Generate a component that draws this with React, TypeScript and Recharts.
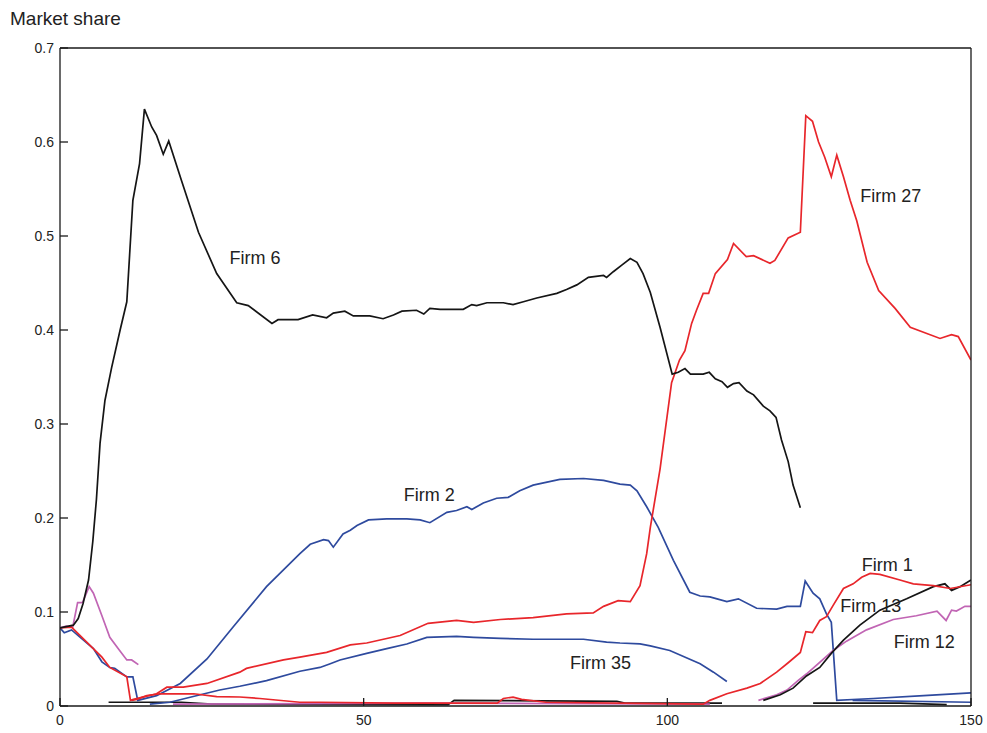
import React from "react";
import { LineChart, Line, XAxis, YAxis, ReferenceDot } from "recharts";

type Pt = [number, number];

// period, market share
const firm6: Pt[] = [
  [0, 0.083], [2.2, 0.086], [3, 0.093], [3.8, 0.109], [4.7, 0.134], [5.4, 0.175], [6, 0.22],
  [6.6, 0.28], [7.4, 0.325], [8.5, 0.36], [9.9, 0.4], [11, 0.43], [12, 0.538], [13.1, 0.577],
  [13.9, 0.635], [15.1, 0.616], [15.9, 0.607], [17, 0.587], [17.9, 0.601], [20, 0.559],
  [22.8, 0.504], [25.8, 0.46], [29.1, 0.429], [31, 0.426], [34.9, 0.407], [35.9, 0.411],
  [39.2, 0.411], [41.6, 0.416], [43.9, 0.413], [45, 0.418], [46.9, 0.42], [48.3, 0.415],
  [51, 0.415], [53.2, 0.412], [54.9, 0.416], [56.3, 0.42], [58.7, 0.421], [59.9, 0.417],
  [60.9, 0.423], [62.6, 0.422], [66.4, 0.422], [67.8, 0.427], [68.6, 0.426], [70.3, 0.429],
  [73, 0.429], [74.6, 0.427], [76.3, 0.43], [78.5, 0.434], [81.8, 0.439], [83.4, 0.443],
  [85.1, 0.448], [87, 0.456], [89.5, 0.458], [90, 0.456], [91.1, 0.462], [92.5, 0.469],
  [93.9, 0.476], [95, 0.472], [96, 0.46], [97.2, 0.44], [98.8, 0.403], [100.8, 0.353],
  [101.8, 0.355], [102.9, 0.359], [103.8, 0.353], [105.9, 0.353], [106.9, 0.355],
  [107.9, 0.348], [109, 0.345], [109.9, 0.339], [110.9, 0.343], [111.8, 0.344], [113.1, 0.335],
  [114.2, 0.331], [115.8, 0.319], [116.9, 0.314], [117.9, 0.307], [118.8, 0.283],
  [119.9, 0.26], [120.7, 0.235], [121.9, 0.211],
];

const firm27: Pt[] = [
  [0, 0.083], [1.9, 0.084], [4.4, 0.068], [6.9, 0.052], [8.2, 0.041], [11, 0.031], [11.6, 0.006],
  [12.1, 0.007], [15.9, 0.013], [17.6, 0.02], [20.3, 0.02], [24.2, 0.024], [29.6, 0.036],
  [30.7, 0.04], [36.8, 0.049], [39.5, 0.052], [43.9, 0.057], [47.8, 0.065], [50.5, 0.067],
  [56, 0.075], [60.6, 0.088], [65.3, 0.091], [68.1, 0.089], [72.5, 0.092], [77.9, 0.094],
  [83.4, 0.098], [87.8, 0.099], [89.5, 0.106], [91.9, 0.112], [93.9, 0.111], [95.5, 0.128],
  [96.6, 0.162], [97.2, 0.19], [98.8, 0.252], [100.7, 0.344], [102, 0.368], [102.9, 0.378],
  [104, 0.407], [104.8, 0.421], [105.9, 0.439], [106.8, 0.439], [107.9, 0.46], [109.9, 0.475],
  [110.9, 0.492], [113, 0.478], [114.2, 0.479], [116.9, 0.471], [117.7, 0.474], [119.9, 0.498],
  [121.9, 0.504], [122.8, 0.628], [123.9, 0.622], [124.9, 0.6], [125.9, 0.584], [127, 0.563],
  [127.9, 0.586], [129, 0.563], [130.1, 0.538], [131.2, 0.516], [132.9, 0.472], [134.8, 0.442],
  [137.5, 0.423], [140, 0.403], [144.9, 0.391], [146.8, 0.395], [147.9, 0.393], [150, 0.368],
];

const firm2: Pt[] = [
  [0, 0.083], [0.7, 0.078], [1.9, 0.081], [5.5, 0.061], [6.9, 0.047], [8.2, 0.041], [9, 0.04],
  [11, 0.031], [12, 0.031], [12.8, 0.006], [15.9, 0.011], [19.8, 0.024], [24.2, 0.05],
  [28.5, 0.084], [34, 0.127], [39.5, 0.162], [41.2, 0.172], [43.4, 0.177], [44.2, 0.176],
  [45, 0.169], [46.6, 0.183], [47.8, 0.187], [48.9, 0.192], [50.8, 0.198], [53.8, 0.199],
  [57.1, 0.199], [59.3, 0.198], [60.9, 0.195], [63.7, 0.206], [65.3, 0.208], [67, 0.212],
  [67.8, 0.209], [69.7, 0.216], [71.9, 0.221], [73.8, 0.222], [75.7, 0.229], [77.9, 0.235],
  [82.3, 0.241], [86.2, 0.242], [89.5, 0.24], [92.2, 0.236], [93.9, 0.235], [95, 0.229],
  [96.6, 0.212], [98.5, 0.19], [101, 0.155], [103.7, 0.121], [105.4, 0.117], [107, 0.116],
  [109.8, 0.111], [111.7, 0.114], [114.7, 0.104], [118, 0.103], [119.7, 0.106], [121.9, 0.106],
  [122.7, 0.133], [124, 0.12], [125.1, 0.114], [126.2, 0.098], [127, 0.089], [127.9, 0.006],
  [133.9, 0.008], [142.2, 0.011], [150, 0.014],
];

const firmEarly: Pt[] = [
  [0, 0.083], [1, 0.085], [2.1, 0.084], [2.9, 0.11], [3.7, 0.11], [4.8, 0.127], [5.5, 0.12],
  [6.9, 0.096], [8.2, 0.073], [9.6, 0.061], [11, 0.049], [11.8, 0.049], [12.9, 0.044],
];

const firm35: Pt[] = [
  [14.8, 0.002], [18.1, 0.004], [23.1, 0.012], [26.3, 0.017], [29.6, 0.021], [34, 0.027],
  [39.5, 0.037], [42.8, 0.041], [44.5, 0.045], [46.1, 0.049], [50.5, 0.056], [53.8, 0.061],
  [57.1, 0.066], [60.4, 0.073], [65.3, 0.074], [68.1, 0.073], [72.5, 0.072], [77.9, 0.071],
  [86.2, 0.071], [90, 0.068], [92.2, 0.067], [95.5, 0.066], [97.2, 0.064], [100.4, 0.059],
  [105.4, 0.045], [107.6, 0.036], [109.8, 0.026],
];

const firm1: Pt[] = [
  [11.8, 0.006], [12.6, 0.007], [14.3, 0.011], [16.5, 0.013], [22, 0.013], [25.8, 0.01],
  [29.6, 0.0096], [32.9, 0.008], [39.5, 0.004], [42.8, 0.004], [55, 0.003], [72, 0.003],
  [73, 0.008], [74.6, 0.0095], [76, 0.007], [80, 0.004], [105.9, 0.002], [107, 0.006],
  [109.8, 0.013], [113.1, 0.019], [115.3, 0.024], [118, 0.036], [119.9, 0.046], [121.9, 0.057],
  [122.8, 0.079], [123.9, 0.078], [125.1, 0.091], [126.2, 0.095], [127.3, 0.107], [129, 0.125],
  [130.6, 0.13], [132, 0.137], [133.4, 0.141], [135, 0.14], [138.3, 0.134], [140.5, 0.13],
  [143.8, 0.128], [146.6, 0.125], [150, 0.129],
];

const firm13: Pt[] = [
  [115.8, 0.006], [118.6, 0.012], [120.7, 0.019], [122.9, 0.032], [125.1, 0.041], [127, 0.056],
  [129, 0.07], [131.7, 0.086], [135, 0.102], [139.4, 0.114], [143.8, 0.127], [145.7, 0.13],
  [146.8, 0.123], [148.2, 0.127], [150, 0.134],
];

const firm12: Pt[] = [
  [115, 0.006], [118, 0.012], [119.7, 0.017], [121.5, 0.027], [122.9, 0.034], [127.3, 0.059],
  [129.5, 0.069], [132.8, 0.081], [137.2, 0.092], [141, 0.096], [144.4, 0.101], [145.9, 0.091],
  [146.8, 0.102], [147.6, 0.101], [149, 0.106], [150, 0.106],
];

const lowBlackA: Pt[] = [
  [8, 0.004], [20, 0.004], [25, 0.002], [63.9, 0.0015], [64.9, 0.006], [91.7, 0.005],
  [93, 0.003], [109, 0.003],
];
const lowBlackB: Pt[] = [[124, 0.003], [138.3, 0.003], [146, 0.0015]];
const lowMagenta: Pt[] = [[18.6, 0.002], [60, 0.003], [107, 0.002]];
const lowBlue: Pt[] = [[130.5, 0.006], [150, 0.004]];

const X_TICKS = [0, 50, 100, 150];
const Y_TICKS = [0, 0.1, 0.2, 0.3, 0.4, 0.5, 0.6, 0.7];

const LABELS = [
  { text: "Firm 6", t: 32.1, v: 0.477 },
  { text: "Firm 27", t: 136.8, v: 0.543 },
  { text: "Firm 2", t: 60.8, v: 0.225 },
  { text: "Firm 1", t: 136.2, v: 0.15 },
  { text: "Firm 13", t: 133.5, v: 0.107 },
  { text: "Firm 12", t: 142.3, v: 0.068 },
  { text: "Firm 35", t: 89.0, v: 0.046 },
];

const BLACK = "#151515";
const RED = "#e8262b";
const BLUE = "#2e4a9e";
const MAGENTA = "#c165b4";
const AXIS = "#1a1a1a";
const FONT = "'Liberation Sans', Arial, sans-serif";

const SERIES = [
  { key: "lowBlackA", data: lowBlackA, color: BLACK },
  { key: "lowBlackB", data: lowBlackB, color: BLACK },
  { key: "lowMagenta", data: lowMagenta, color: MAGENTA },
  { key: "lowBlue", data: lowBlue, color: BLUE },
  { key: "firmEarly", data: firmEarly, color: MAGENTA },
  { key: "firm35", data: firm35, color: BLUE },
  { key: "firm2", data: firm2, color: BLUE },
  { key: "firm12", data: firm12, color: MAGENTA },
  { key: "firm13", data: firm13, color: BLACK },
  { key: "firm1", data: firm1, color: RED },
  { key: "firm27", data: firm27, color: RED },
  { key: "firm6", data: firm6, color: BLACK },
];

const TICK_LEN = 8;
const MARGIN = 6;

function BottomTick(props: any) {
  const { x, y, payload } = props;
  const axisY = y - MARGIN;
  return (
    <g>
      <line x1={x} x2={x} y1={axisY} y2={axisY - TICK_LEN} stroke={AXIS} strokeWidth={1.3} />
      <text x={x} y={axisY + 19} textAnchor="middle" fontSize={14} fill="#222" fontFamily={FONT}>
        {payload.value}
      </text>
    </g>
  );
}

function TopTick(props: any) {
  const { x, y } = props;
  const axisY = y + MARGIN;
  return <line x1={x} x2={x} y1={axisY} y2={axisY + TICK_LEN} stroke={AXIS} strokeWidth={1.3} />;
}

function LeftTick(props: any) {
  const { x, y, payload } = props;
  const axisX = x + MARGIN;
  const v = payload.value as number;
  return (
    <g>
      <line x1={axisX} x2={axisX + TICK_LEN} y1={y} y2={y} stroke={AXIS} strokeWidth={1.3} />
      <text x={axisX - 6} y={y + 5} textAnchor="end" fontSize={14} fill="#222" fontFamily={FONT}>
        {v === 0 ? "0" : v.toFixed(1)}
      </text>
    </g>
  );
}

function RightTick(props: any) {
  const { x, y } = props;
  const axisX = x - MARGIN;
  return <line x1={axisX} x2={axisX - TICK_LEN} y1={y} y2={y} stroke={AXIS} strokeWidth={1.3} />;
}

export default function App() {
  return (
    <div style={{ position: "absolute", left: 0, top: 0, width: 987, height: 733, background: "#fff" }}>
      <div
        style={{
          position: "absolute",
          left: 10,
          top: 8,
          fontSize: 19,
          lineHeight: "22px",
          fontFamily: FONT,
          color: "#222",
        }}
      >
        Market share
      </div>
      <LineChart width={987} height={733} margin={{ top: 0, right: 0, bottom: 0, left: 0 }}>
        <XAxis
          xAxisId="b"
          type="number"
          dataKey="t"
          domain={[0, 150]}
          ticks={X_TICKS}
          height={27}
          tickSize={0}
          tickMargin={MARGIN}
          tickLine={false}
          axisLine={{ stroke: AXIS, strokeWidth: 1.3 }}
          tick={<BottomTick />}
          allowDataOverflow
        />
        <XAxis
          xAxisId="top"
          orientation="top"
          type="number"
          dataKey="t"
          domain={[0, 150]}
          ticks={X_TICKS}
          height={48}
          tickSize={0}
          tickMargin={MARGIN}
          tickLine={false}
          axisLine={{ stroke: AXIS, strokeWidth: 1.3 }}
          tick={<TopTick />}
        />
        <YAxis
          yAxisId="l"
          type="number"
          domain={[0, 0.7]}
          ticks={Y_TICKS}
          width={60}
          tickSize={0}
          tickMargin={MARGIN}
          tickLine={false}
          axisLine={{ stroke: AXIS, strokeWidth: 1.3 }}
          tick={<LeftTick />}
          allowDataOverflow
        />
        <YAxis
          yAxisId="r"
          orientation="right"
          type="number"
          domain={[0, 0.7]}
          ticks={Y_TICKS}
          width={16}
          tickSize={0}
          tickMargin={MARGIN}
          tickLine={false}
          axisLine={{ stroke: AXIS, strokeWidth: 1.3 }}
          tick={<RightTick />}
        />
        {SERIES.map((s) => (
          <Line
            key={s.key}
            xAxisId="b"
            yAxisId="l"
            data={s.data.map(([t, v]) => ({ t, v }))}
            dataKey="v"
            type="linear"
            stroke={s.color}
            strokeWidth={1.7}
            dot={false}
            activeDot={false}
            isAnimationActive={false}
          />
        ))}
        {LABELS.map((l) => (
          <ReferenceDot
            key={l.text}
            xAxisId="b"
            yAxisId="l"
            x={l.t}
            y={l.v}
            r={0}
            fill="none"
            stroke="none"
            label={{
              value: l.text,
              position: "center",
              fontSize: 18,
              fill: "#222",
              fontFamily: FONT,
            }}
          />
        ))}
      </LineChart>
    </div>
  );
}
